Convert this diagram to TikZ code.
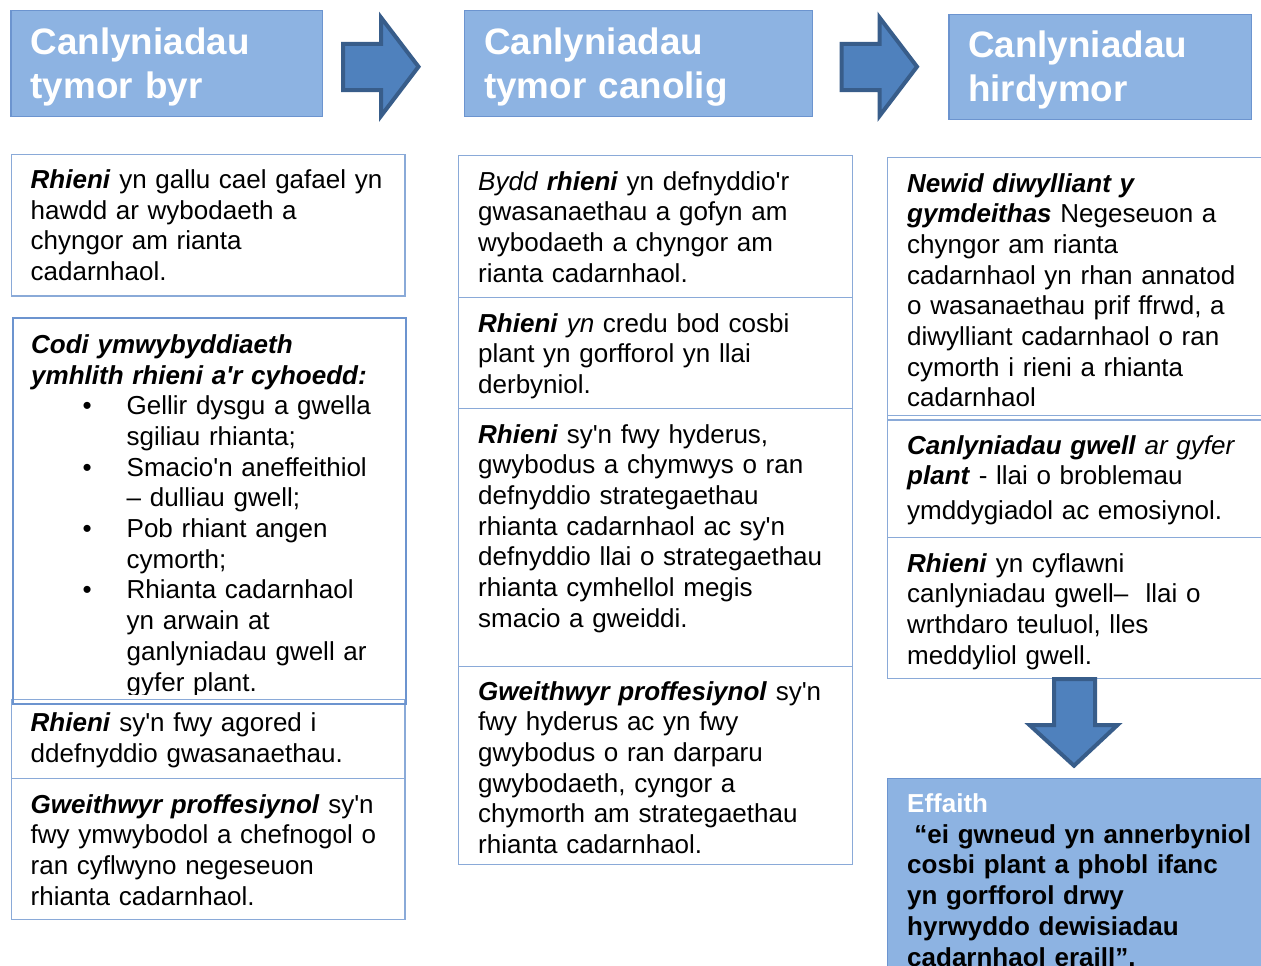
\documentclass[tikz,border=0pt]{standalone}
\usepackage{fontspec}
\setmainfont{Liberation Sans}
\usepackage{tikz}
\definecolor{hdrfill}{HTML}{8DB3E2}
\definecolor{hdrline}{HTML}{6C94CF}
\definecolor{boxline}{HTML}{8AAAD8}
\definecolor{arrfill}{HTML}{4F81BD}
\definecolor{arrline}{HTML}{385D8A}
\newcommand{\bi}[1]{\textbf{\textit{#1}}}
\newcommand{\ap}{\textquotesingle}

\begin{document}
\begin{tikzpicture}[x=1pt,y=-1pt,
    header/.style={draw=hdrline, fill=hdrfill, line width=1.4pt, anchor=north west, inner sep=0pt},
    panel/.style={draw=boxline, line width=1.4pt, anchor=north west, inner sep=0pt},
    hdrtext/.style={anchor=base west, inner sep=0pt, text width=320pt, align=left, text=white, font=\fontsize{36.8}{43.4}\selectfont\bfseries},
    body/.style={anchor=base west, inner sep=0pt, text width=380pt, align=left, font=\fontsize{26}{30.7}\selectfont},
    blockarrow/.style={draw=arrline, fill=arrfill, line width=4pt, line join=miter}]
    \useasboundingbox (0,0) rectangle (1261,966);
    \fill[white] (0,0) rectangle (1261,966);

    % Headers
    \node[header, minimum width=311.4pt, minimum height=105.7pt] (hdrShort) at (10.3,10) {};
    \node[hdrtext] (hdrShortText) at (30.5,55) {Canlyniadau\\tymor byr};
    \node[header, minimum width=348pt, minimum height=105.7pt] (hdrMid) at (464,10) {};
    \node[hdrtext] (hdrMidText) at (484,55) {Canlyniadau\\tymor canolig};
    \node[header, minimum width=302.4pt, minimum height=105pt] (hdrLong) at (948.3,14) {};
    \node[hdrtext] (hdrLongText) at (968,58) {Canlyniadau\\hirdymor};

    % Block arrows between headers
    \foreach \ax in {343,841.5} \draw[blockarrow] (\ax,44) -- ++(38,0) -- ++(0,-26.5) -- ++(37.5,49.2) -- ++(-37.5,49.3) -- ++(0,-26) -- ++(-38,0) -- cycle;

    % Short term column
    \node[panel, minimum width=393.3pt, minimum height=141.3pt] (shortA) at (11,154) {};
    \node[body] (shortAText) at (30.5,188.3) {\bi{Rhieni} yn gallu cael gafael yn\\hawdd ar wybodaeth a\\chyngor am rianta\\cadarnhaol.};
    \node[panel, minimum width=393.3pt, minimum height=78.7pt] (shortC) at (11,699) {};
    \node[body] (shortCText) at (30.5,731.5) {\bi{Rhieni} sy\ap n fwy agored i\\ddefnyddio gwasanaethau.};
    \node[panel, minimum width=393.3pt, minimum height=141.3pt] (shortD) at (11,777.7) {};
    \node[body] (shortDText) at (30.5,813) {\bi{Gweithwyr proffesiynol} sy\ap n\\fwy ymwybodol a chefnogol o\\ran cyflwyno negeseuon\\rhianta cadarnhaol.};
    \node[panel, draw=hdrline, line width=2pt, minimum width=393.5pt, minimum height=385.4pt] (shortB) at (11.5,317.3) {};
    \begin{scope}
        \clip (0,318) rectangle (410,694);
        \node[body] (shortBText) at (31,353.3) {\bi{Codi ymwybyddiaeth}\\\bi{ymhlith rhieni a\ap r cyhoedd:}\\
            \hspace*{51.5pt}\makebox[44pt][l]{\textbullet}Gellir dysgu a gwella\\
            \hspace*{95.5pt}sgiliau rhianta;\\
            \hspace*{51.5pt}\makebox[44pt][l]{\textbullet}Smacio\ap n aneffeithiol\\
            \hspace*{95.5pt}– dulliau gwell;\\
            \hspace*{51.5pt}\makebox[44pt][l]{\textbullet}Pob rhiant angen\\
            \hspace*{95.5pt}cymorth;\\
            \hspace*{51.5pt}\makebox[44pt][l]{\textbullet}Rhianta cadarnhaol\\
            \hspace*{95.5pt}yn arwain at\\
            \hspace*{95.5pt}ganlyniadau gwell ar\\
            \hspace*{95.5pt}gyfer plant.};
    \end{scope}

    % Medium term column
    \node[panel, minimum width=393.5pt, minimum height=141.7pt] (midA) at (458,155) {};
    \node[body] (midAText) at (478,190) {\textit{Bydd} \bi{rhieni} yn defnyddio\ap r\\gwasanaethau a gofyn am\\wybodaeth a chyngor am\\rianta cadarnhaol.};
    \node[panel, minimum width=393.5pt, minimum height=111pt] (midB) at (458,296.7) {};
    \node[body] (midBText) at (478,332) {\bi{Rhieni} \textit{yn} credu bod cosbi\\plant yn gorfforol yn llai\\derbyniol.};
    \node[panel, minimum width=393.5pt, minimum height=258pt] (midC) at (458,407.7) {};
    \node[body] (midCText) at (478,443) {\bi{Rhieni} sy\ap n fwy hyderus,\\gwybodus a chymwys o ran\\defnyddio strategaethau\\rhianta cadarnhaol ac sy\ap n\\defnyddio llai o strategaethau\\rhianta cymhellol megis\\smacio a gweiddi.};
    \node[panel, minimum width=393.5pt, minimum height=198.3pt] (midD) at (458,665.7) {};
    \node[body] (midDText) at (478,700) {\bi{Gweithwyr proffesiynol} sy\ap n\\fwy hyderus ac yn fwy\\gwybodus o ran darparu\\gwybodaeth, cyngor a\\chymorth am strategaethau\\rhianta cadarnhaol.};

    % Long term column
    \node[panel, minimum width=390pt, minimum height=262.6pt] (longA) at (887,156.7) {};
    \node[body] (longAText) at (907,192) {\bi{Newid diwylliant y}\\\bi{gymdeithas} Negeseuon a\\chyngor am rianta\\cadarnhaol yn rhan annatod\\o wasanaethau prif ffrwd, a\\diwylliant cadarnhaol o ran\\cymorth i rieni a rhianta\\cadarnhaol};
    \node[panel, minimum width=390pt, minimum height=122pt] (longB) at (887,415) {};
    \node[body] (longBText) at (907,454) {\bi{Canlyniadau gwell} \textit{ar gyfer}\\\bi{plant} - llai o broblemau\\[4.3pt]ymddygiadol ac emosiynol.};
    \node[panel, minimum width=390pt, minimum height=141pt] (longC) at (887,537) {};
    \node[body] (longCText) at (907,572) {\bi{Rhieni} yn cyflawni\\canlyniadau gwell–~ llai o\\wrthdaro teuluol, lles\\meddyliol gwell.};

    % Down arrow and impact
    \draw[blockarrow] (1054,679) -- (1095,679) -- (1095,725) -- (1117.5,725) -- (1074,765.7) -- (1029.5,725) -- (1054,725) -- cycle;
    \node[header, minimum width=390pt, minimum height=250pt] (impact) at (887,777.7) {};
    \node[body, font=\fontsize{26}{30.7}\selectfont\bfseries] (impactText) at (907,812.5) {\textcolor{white}{Effaith}\\\hspace*{7.2pt}“ei gwneud yn annerbyniol\\cosbi plant a phobl ifanc\\yn gorfforol drwy\\hyrwyddo dewisiadau\\cadarnhaol eraill”.};
\end{tikzpicture}
\end{document}
